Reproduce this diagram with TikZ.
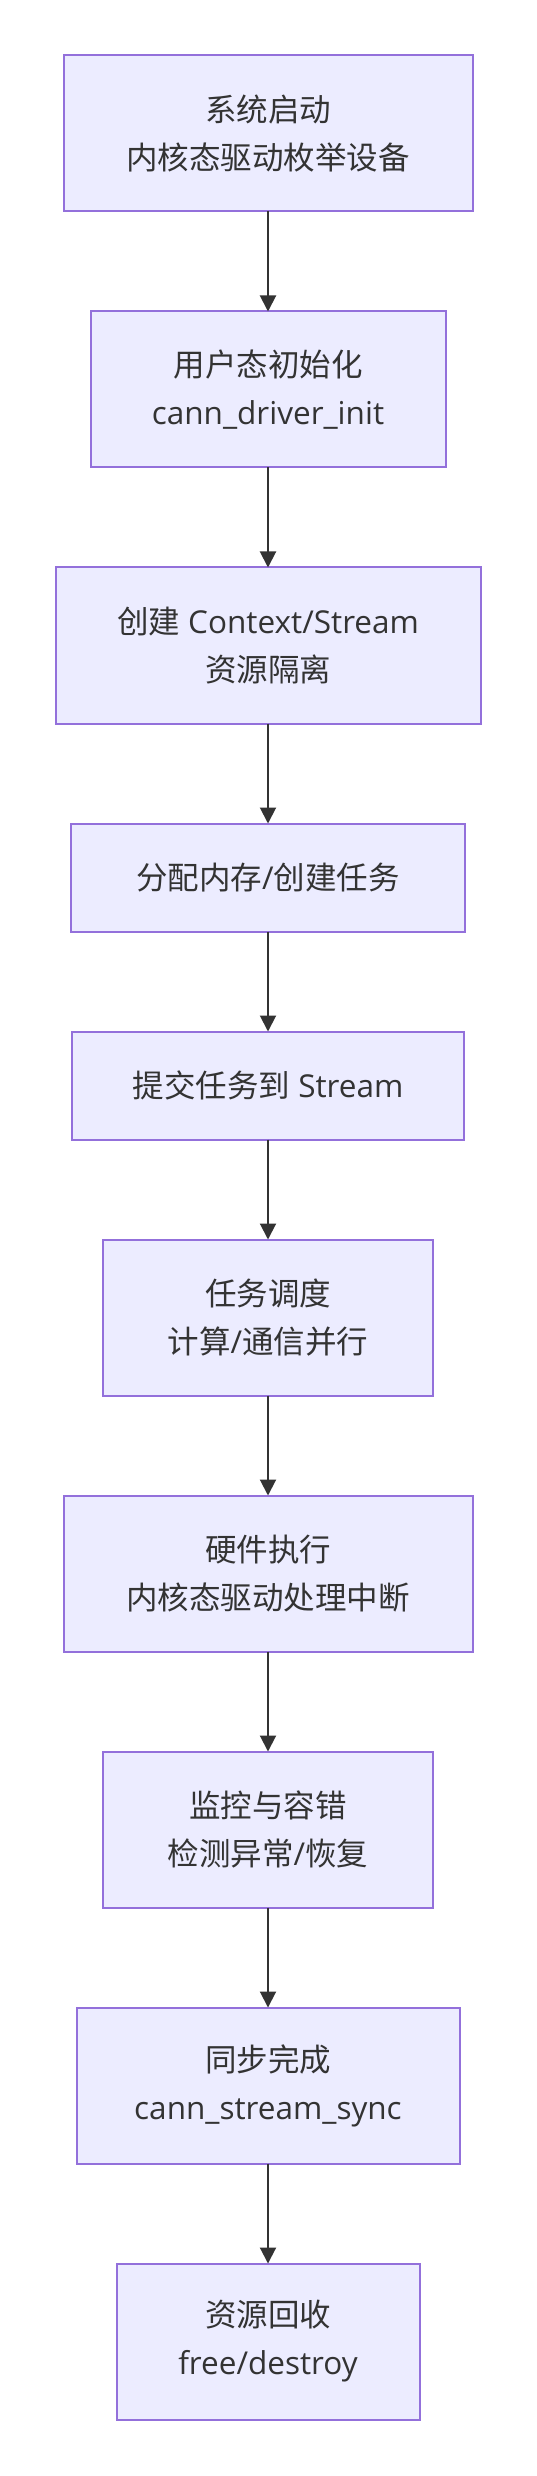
\documentclass[tikz,border=0pt]{standalone}
\usepackage{fontspec}
\setmainfont{Open Sans}
\newfontfamily\cjk{Noto Sans CJK SC}
\newcommand{\zh}[1]{{\cjk #1}}
\usepackage{xcolor}
\usepackage{tikz}
\usetikzlibrary{arrows.meta,positioning}
\definecolor{stepfill}{HTML}{ECECFF}
\definecolor{stepline}{HTML}{9370DB}
\definecolor{inkgray}{HTML}{333333}
\tikzset{
	box/.style={draw=stepline, fill=stepfill, line width=1pt, align=center, inner sep=0pt, outer sep=0pt, minimum height=78pt, text=inkgray, font=\fontsize{15.75pt}{24pt}\selectfont},
	flatbox/.style={box, minimum height=54pt},
	arrow/.style={-{Triangle[length=8pt,width=8pt]}, line width=1pt, draw=inkgray}
}

\begin{document}
\begin{tikzpicture}[node distance=50pt]
	\useasboundingbox (0,0) rectangle (268pt,-1238pt);
	\node[box, minimum width=204.5pt] (start) at (134pt,-66.75pt) {\zh{系统启动}\\\zh{内核态驱动枚举设备}};
	\node[box, below=of start, minimum width=177.5pt] (init) {\zh{用户态初始化}\\cann\_driver\_init};
	\node[box, below=of init, minimum width=212.5pt] (ctx) {\zh{创建} Context/Stream\\\zh{资源隔离}};
	\node[flatbox, below=of ctx, minimum width=197pt] (alloc) {\zh{分配内存}/\zh{创建任务}};
	\node[flatbox, below=of alloc, minimum width=196pt] (submit) {\zh{提交任务到} Stream};
	\node[box, below=of submit, minimum width=165pt] (sched) {\zh{任务调度}\\\zh{计算}/\zh{通信并行}};
	\node[box, below=of sched, minimum width=204.5pt] (exec) {\zh{硬件执行}\\\zh{内核态驱动处理中断}};
	\node[box, below=of exec, minimum width=165pt] (monitor) {\zh{监控与容错}\\\zh{检测异常}/\zh{恢复}};
	\node[box, below=of monitor, minimum width=191.5pt] (sync) {\zh{同步完成}\\cann\_stream\_sync};
	\node[box, below=of sync, minimum width=151.5pt] (release) {\zh{资源回收}\\free/destroy};
	
	\draw[arrow] (start) -- (init);
	\draw[arrow] (init) -- (ctx);
	\draw[arrow] (ctx) -- (alloc);
	\draw[arrow] (alloc) -- (submit);
	\draw[arrow] (submit) -- (sched);
	\draw[arrow] (sched) -- (exec);
	\draw[arrow] (exec) -- (monitor);
	\draw[arrow] (monitor) -- (sync);
	\draw[arrow] (sync) -- (release);
\end{tikzpicture}
\end{document}
